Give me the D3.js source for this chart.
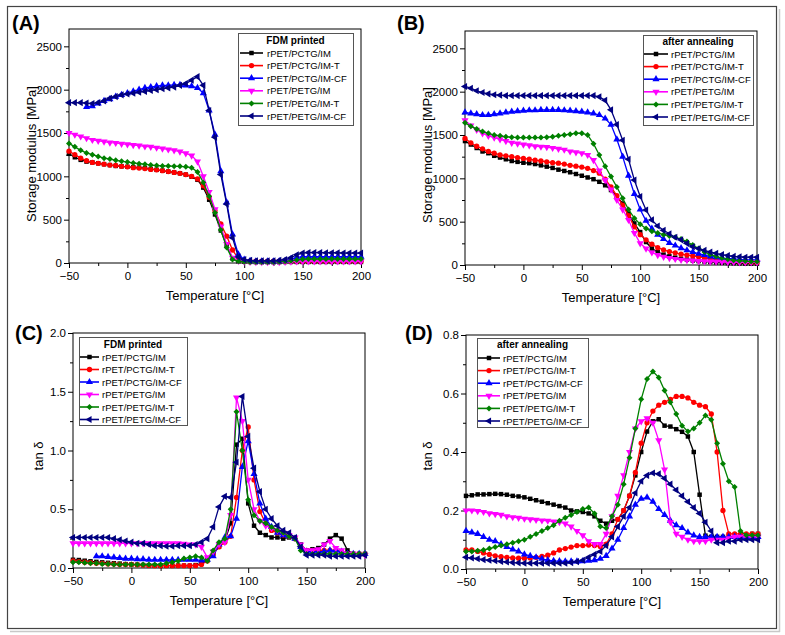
<!DOCTYPE html>
<html>
<head>
<meta charset="utf-8">
<script src="https://cdn.jsdelivr.net/npm/d3@7"></script>
<style>
  body { margin: 0; background: #fff; }
  svg text { font-family: "Liberation Sans", Arial, sans-serif; fill: #000; }
</style>
</head>
<body>
<svg id="fig" width="785" height="635"></svg>
<script>
// temperature grid shared by every curve (degC)
const temps = [
  -50, -45, -40, -35, -30, -25, -20, -15, -10, -5,
  0, 5, 10, 15, 20, 25, 30, 35, 40, 45,
  50, 55, 60, 65, 70, 75, 80, 85, 90, 95,
  100, 105, 110, 115, 120, 125, 130, 135, 140, 145,
  150, 155, 160, 165, 170, 175, 180, 185, 190, 195, 200];

const names = ['rPET/PCTG/IM', 'rPET/PCTG/IM-T', 'rPET/PCTG/IM-CF',
  'rPET/PETG/IM', 'rPET/PETG/IM-T', 'rPET/PETG/IM-CF'];
const colors = ['#000000', '#ff0000', '#0000ff', '#ff00ff', '#008000', '#000080'];

const tempTicks = [-50, 0, 50, 100, 150, 200];
const modulusTicks = [0, 500, 1000, 1500, 2000, 2500];
const tanTicksC = [0, 0.5, 1.0, 1.5, 2.0];
const tanTicksD = [0, 0.2, 0.4, 0.6, 0.8];

// (A) storage modulus, FDM printed
const aPctgIm = [
  1260, 1220, 1190, 1170, 1160, 1150, 1140, 1130, 1120, 1115,
  1110, 1105, 1100, 1095, 1085, 1075, 1065, 1055, 1045, 1035,
  1020, 995, 960, 870, 730, 560, 375, 200, 55, 20,
  15, 12, 10, 10, 10, 10, 10, 12, 12, 12,
  12, 12, 12, 12, 12, 12, 12, 12, 12, 12, 12];
const aPctgImT = [
  1290, 1250, 1210, 1180, 1160, 1150, 1140, 1130, 1125, 1115,
  1110, 1100, 1095, 1090, 1080, 1075, 1065, 1055, 1045, 1035,
  1020, 1000, 970, 890, 760, 600, 450, 310, 150, 50,
  25, 20, 20, 20, 20, 20, 20, 20, 20, 20,
  20, 20, 20, 20, 20, 20, 20, 20, 20, 20, 20];
const aPctgImCF = [
  null, null, null, 1800, 1810, 1840, 1870, 1890, 1920, 1940,
  1960, 1980, 2000, 2020, 2030, 2040, 2050, 2050, 2055, 2055,
  2050, 2040, 2020, 1960, 1760, 1480, 1060, 700, 330, 100,
  40, 25, 20, 20, 20, 20, 22, 25, 45, 65,
  72, 72, 72, 72, 72, 72, 72, 72, 72, 72, 72];
const aPetgIm = [
  1500, 1480, 1460, 1440, 1420, 1410, 1400, 1390, 1385, 1375,
  1370, 1360, 1355, 1345, 1340, 1330, 1320, 1310, 1300, 1285,
  1265, 1240, 1170, 1000, 820, 620, 420, 220, 60, 25,
  15, 12, 10, 10, 10, 10, 10, 12, 15, 18,
  20, 20, 20, 20, 20, 20, 20, 20, 20, 20, 20];
const aPetgImT = [
  1380, 1340, 1300, 1270, 1250, 1230, 1210, 1200, 1185, 1175,
  1165, 1155, 1145, 1140, 1130, 1125, 1120, 1120, 1115, 1115,
  1110, 1100, 1050, 930, 770, 580, 380, 180, 40, 20,
  15, 12, 12, 12, 12, 12, 15, 20, 25, 35,
  42, 45, 45, 45, 45, 45, 45, 45, 45, 45, 45];
const aPetgImCF = [
  1850, 1850, 1850, 1845, 1840, 1850, 1870, 1900, 1920, 1940,
  1950, 1960, 1970, 1980, 1990, 2000, 2010, 2020, 2030, 2050,
  2070, 2110, 2150, 2050, 1760, 1450, 1020, 680, 290, 70,
  40, 30, 25, 25, 25, 25, 30, 40, 60, 95,
  115, 120, 120, 120, 118, 118, 118, 115, 115, 115, 115];

// (B) storage modulus, after annealing
const bPctgIm = [
  1430, 1390, 1350, 1310, 1290, 1260, 1240, 1220, 1200, 1190,
  1180, 1175, 1165, 1150, 1135, 1120, 1100, 1085, 1070, 1050,
  1030, 1010, 990, 960, 920, 865, 790, 710, 590, 480,
  380, 265, 190, 150, 120, 100, 85, 72, 62, 52,
  45, 40, 35, 30, 25, 22, 20, 18, 16, 15, 15];
const bPctgImT = [
  1460, 1410, 1370, 1340, 1310, 1290, 1270, 1260, 1250, 1240,
  1230, 1220, 1210, 1200, 1190, 1180, 1175, 1165, 1150, 1140,
  1130, 1115, 1090, 1060, 990, 900, 800, 690, 570, 440,
  350, 290, 240, 200, 175, 155, 140, 125, 115, 105,
  95, 85, 75, 65, 55, 48, 42, 38, 34, 30, 30];
const bPctgImCF = [
  1760, 1750, 1740, 1730, 1730, 1740, 1750, 1760, 1770, 1775,
  1780, 1785, 1785, 1790, 1790, 1790, 1790, 1785, 1780, 1775,
  1770, 1760, 1750, 1730, 1690, 1620, 1450, 1250, 1030, 820,
  640, 510, 420, 350, 300, 255, 225, 195, 170, 150,
  130, 115, 100, 90, 80, 75, 70, 65, 60, 60, 60];
const bPetgIm = [
  1670, 1610, 1560, 1520, 1490, 1470, 1450, 1430, 1410, 1400,
  1390, 1380, 1370, 1365, 1360, 1350, 1340, 1330, 1310, 1300,
  1290, 1270, 1210, 1090, 980, 870, 750, 640, 520, 370,
  250, 190, 145, 115, 95, 80, 70, 60, 55, 50,
  45, 42, 40, 38, 36, 34, 32, 30, 30, 30, 30];
const bPetgImT = [
  1640, 1600, 1570, 1540, 1520, 1500, 1490, 1480, 1475, 1470,
  1470, 1470, 1470, 1470, 1475, 1480, 1490, 1500, 1510, 1520,
  1520, 1500, 1400, 1270, 1140, 1020, 900, 770, 640, 540,
  470, 420, 390, 370, 350, 335, 320, 300, 270, 230,
  190, 150, 120, 100, 80, 65, 55, 50, 45, 40, 40];
const bPetgImCF = [
  2060, 2040, 2010, 1990, 1975, 1965, 1960, 1955, 1955, 1955,
  1955, 1955, 1955, 1955, 1955, 1955, 1955, 1955, 1955, 1955,
  1955, 1955, 1955, 1940, 1900, 1790, 1620, 1440, 1220, 980,
  790, 635, 520, 450, 400, 360, 320, 290, 250, 210,
  190, 170, 150, 135, 120, 110, 100, 95, 90, 90, 90];

// (C) tan delta, FDM printed
const cPctgIm = [
  .07, .068, .062, .057, .052, .048, .044, .04, .037, .033,
  .03, .027, .025, .022, .02, .02, .02, .02, .02, .02,
  .02, .025, .04, .07, .12, .18, .23, .38, 1.05, 1.1,
  .55, .36, .3, .28, .26, .26, .25, .26, .25, .2,
  .15, .16, .17, .2, .25, .28, .25, .15, .12, .12, .12];
const cPctgImT = [
  .06, .055, .05, .045, .04, .04, .035, .033, .03, .03,
  .03, .028, .025, .022, .02, .02, .02, .02, .02, .02,
  .02, .02, .03, .06, .12, .18, .22, .27, .6, 1.0,
  1.2, .75, .48, .38, .32, .3, .28, .27, .25, .18,
  .15, .15, .15, .15, .15, .15, .14, .12, .12, .12, .12];
const cPctgImCF = [
  null, null, null, null, .1, .1, .095, .09, .085, .08,
  .08, .075, .075, .07, .07, .07, .07, .07, .07, .07,
  .07, .07, .065, .07, .1, .2, .26, .27, .42, .86,
  1.08, .8, .55, .42, .35, .3, .28, .27, .25, .18,
  .14, .14, .14, .14, .15, .15, .14, .12, .12, .12, .12];
const cPetgIm = [
  .21, .21, .21, .21, .21, .21, .21, .21, .21, .21,
  .21, .21, .21, .21, .21, .21, .21, .21, .21, .205,
  .2, .2, .18, .09, .14, .2, .22, .45, 1.45, 1.25,
  .75, .5, .4, .36, .34, .32, .3, .28, .26, .2,
  .15, .15, .16, .2, .23, .17, .15, .12, .12, .11, .11];
const cPetgImT = [
  .05, .05, .045, .04, .04, .035, .035, .03, .03, .03,
  .03, .03, .03, .03, .03, .03, .04, .05, .06, .08,
  .09, .1, .09, .06, .15, .22, .25, .5, 1.33, 1.0,
  .58, .45, .4, .38, .35, .32, .3, .27, .25, .15,
  .12, .12, .12, .12, .12, .12, .12, .12, .12, .12, .12];
const cPetgImCF = [
  .26, .26, .26, .26, .26, .26, .26, .25, .24, .23,
  .22, .21, .21, .2, .19, .19, .185, .185, .19, .19,
  .19, .2, .22, .25, .35, .52, .61, .6, .9, 1.46,
  1.12, .85, .65, .5, .42, .36, .32, .3, .26, .18,
  .11, .11, .11, .11, .1, .1, .1, .1, .1, .1, .11];

// (D) tan delta, after annealing
const dPctgIm = [
  .25, .252, .255, .255, .256, .257, .256, .254, .25, .248,
  .245, .24, .235, .23, .225, .22, .215, .21, .2, .197,
  .195, .19, .18, .165, .155, .165, .17, .2, .25, .32,
  .4, .47, .505, .512, .49, .487, .478, .469, .453, .4,
  .254, .114, .11, .11, .11, .11, .11, .115, .115, .12, .12];
const dPctgImT = [
  .065, .065, .06, .055, .05, .045, .042, .04, .038, .037,
  .037, .038, .04, .043, .047, .055, .065, .07, .075, .08,
  .08, .082, .08, .077, .085, .12, .17, .2, .25, .33,
  .43, .5, .54, .56, .57, .58, .59, .59, .585, .57,
  .56, .555, .53, .4, .2, .12, .12, .12, .12, .12, .12];
const dPctgImCF = [
  .13, .125, .12, .11, .1, .095, .085, .075, .067, .06,
  .05, .045, .04, .035, .03, .028, .027, .026, .026, .026,
  .027, .028, .03, .035, .045, .07, .1, .14, .18, .22,
  .24, .245, .23, .205, .185, .165, .15, .14, .125, .115,
  .11, .11, .11, .11, .11, .11, .11, .11, .11, .11, .11];
const dPetgIm = [
  .2, .2, .198, .195, .19, .188, .185, .18, .177, .175,
  .172, .17, .168, .166, .165, .162, .16, .155, .145, .13,
  .115, .095, .085, .085, .12, .18, .25, .32, .4, .48,
  .505, .515, .5, .44, .34, .16, .12, .11, .1, .095,
  .095, .095, .1, .1, .1, .105, .11, .11, .11, .11, .11];
const dPetgImT = [
  .06, .06, .062, .065, .07, .075, .08, .085, .09, .095,
  .1, .11, .12, .13, .14, .15, .165, .175, .185, .195,
  .205, .21, .19, .145, .14, .18, .22, .29, .38, .48,
  .58, .65, .675, .655, .61, .57, .53, .49, .47, .48,
  .5, .525, .51, .43, .36, .3, .28, .13, .115, .115, .115];
const dPetgImCF = [
  .04, .038, .035, .032, .03, .028, .026, .024, .022, .021,
  .02, .02, .02, .02, .02, .02, .02, .02, .022, .025,
  .03, .04, .05, .06, .08, .11, .145, .18, .21, .26,
  .3, .32, .328, .325, .31, .29, .27, .25, .23, .21,
  .19, .16, .13, .09, .09, .095, .095, .1, .1, .1, .1];

// marker per series: square, circle, up, down, diamond, left
const markers = [
  { type: d3.symbolSquare, size: 20, rot: 0 },
  { type: d3.symbolCircle, size: 22, rot: 0 },
  { type: d3.symbolTriangle, size: 22, rot: 0 },
  { type: d3.symbolTriangle, size: 22, rot: 180 },
  { type: d3.symbolSquare, size: 18, rot: 45 },
  { type: d3.symbolTriangle, size: 22, rot: -90 }
];

const panels = [
  { label: '(A)', lx: 12, ly: 30, left: 69, right: 361, top: 29, bottom: 263,
    ymax: 2700, ticks: modulusTicks, fmt: d3.format('d'),
    ytitle: 'Storage modulus [MPa]', ytitleX: 36, ytitleY: 154,
    series: [aPctgIm, aPctgImT, aPctgImCF, aPetgIm, aPetgImT, aPetgImCF],
    legTitle: 'FDM printed', leg: { x: 238, y: 33, w: 115, h: 92, l0: 240, l1: 263, tx: 267, ty: 44, r0: 53, dr: 12.6 } },
  { label: '(B)', lx: 397, ly: 30, left: 465, right: 757, top: 31, bottom: 265,
    ymax: 2700, ticks: modulusTicks, fmt: d3.format('d'),
    ytitle: 'Storage modulus [MPa]', ytitleX: 432, ytitleY: 155,
    series: [bPctgIm, bPctgImT, bPctgImCF, bPetgIm, bPetgImT, bPetgImCF],
    legTitle: 'after annealing', leg: { x: 643, y: 35, w: 110, h: 90, l0: 644, l1: 668, tx: 671, ty: 45, r0: 54, dr: 12.6 } },
  { label: '(C)', lx: 15, ly: 340, left: 73, right: 365, top: 333, bottom: 568,
    ymax: 2.0, ticks: tanTicksC, fmt: d3.format('.1f'),
    ytitle: 'tan δ', ytitleX: 43, ytitleY: 456,
    series: [cPctgIm, cPctgImT, cPctgImCF, cPetgIm, cPetgImT, cPetgImCF],
    legTitle: 'FDM printed', leg: { x: 79, y: 337, w: 108, h: 88, l0: 80, l1: 99, tx: 102, ty: 348, r0: 357, dr: 12.5 } },
  { label: '(D)', lx: 405, ly: 340, left: 466, right: 758, top: 335, bottom: 569,
    ymax: 0.8, ticks: tanTicksD, fmt: d3.format('.1f'),
    ytitle: 'tan δ', ytitleX: 432, ytitleY: 456,
    series: [dPctgIm, dPctgImT, dPctgImCF, dPetgIm, dPetgImT, dPetgImCF],
    legTitle: 'after annealing', leg: { x: 477, y: 338, w: 111, h: 89, l0: 478, l1: 500, tx: 503, ty: 348, r0: 358, dr: 12.6 } }
];

const svg = d3.select('#fig');

// outer figure frame with soft shadow
svg.append('line').attr('x1', 10).attr('x2', 780).attr('y1', 631.5).attr('y2', 631.5)
  .attr('stroke', '#c8c8c8').attr('stroke-width', 1.5);
svg.append('line').attr('x1', 779.5).attr('x2', 779.5).attr('y1', 9).attr('y2', 632)
  .attr('stroke', '#c8c8c8').attr('stroke-width', 1.5);
svg.append('rect').attr('x', 7.5).attr('y', 6.5).attr('width', 769).attr('height', 622)
  .attr('fill', 'none').attr('stroke', '#444').attr('stroke-width', 1.2);

function symbolPath(m) {
  return d3.symbol().type(m.type).size(m.size)();
}

panels.forEach(p => {
  const g = svg.append('g');
  const x = d3.scaleLinear().domain([-50, 200]).range([p.left, p.right]);
  const y = d3.scaleLinear().domain([0, p.ymax]).range([p.bottom, p.top]);

  const xMinor = [];
  for (let i = 0; i < tempTicks.length - 1; i++) xMinor.push((tempTicks[i] + tempTicks[i + 1]) / 2);
  const yMinor = [];
  for (let i = 0; i < p.ticks.length - 1; i++) yMinor.push((p.ticks[i] + p.ticks[i + 1]) / 2);

  // axes
  g.append('g').attr('transform', 'translate(0,' + p.bottom + ')')
    .call(d3.axisBottom(x).tickValues(tempTicks).tickSize(5).tickSizeOuter(0).tickPadding(4));
  g.append('g').attr('transform', 'translate(0,' + p.bottom + ')')
    .call(d3.axisBottom(x).tickValues(xMinor).tickSize(3).tickSizeOuter(0).tickFormat(''));
  g.append('g').attr('transform', 'translate(' + p.left + ',0)')
    .call(d3.axisLeft(y).tickValues(p.ticks).tickFormat(p.fmt).tickSize(5).tickSizeOuter(0).tickPadding(2));
  g.append('g').attr('transform', 'translate(' + p.left + ',0)')
    .call(d3.axisLeft(y).tickValues(yMinor).tickSize(3).tickSizeOuter(0).tickFormat(''));
  g.selectAll('.domain').remove();
  g.selectAll('.tick line').attr('stroke', '#000');
  g.selectAll('.tick text').attr('font-size', '11.5px').attr('fill', '#111');

  g.append('rect').attr('x', p.left).attr('y', p.top)
    .attr('width', p.right - p.left).attr('height', p.bottom - p.top)
    .attr('fill', 'none').attr('stroke', '#000').attr('stroke-width', 1);

  // titles
  g.append('text').attr('x', (p.left + p.right) / 2).attr('y', p.bottom + 37)
    .attr('text-anchor', 'middle').attr('font-size', '13px').text('Temperature [°C]');
  g.append('text').attr('transform', 'translate(' + p.ytitleX + ',' + p.ytitleY + ') rotate(-90)')
    .attr('text-anchor', 'middle').attr('font-size', '13px').text(p.ytitle);
  g.append('text').attr('x', p.lx).attr('y', p.ly).attr('font-size', '20px')
    .attr('font-weight', 'bold').text(p.label);

  // curves
  const line = d3.line()
    .defined(d => d[1] != null)
    .x(d => x(d[0])).y(d => y(d[1]));
  p.series.forEach((vals, i) => {
    const pts = temps.map((t, k) => [t, vals[k]]);
    g.append('path').datum(pts).attr('d', line)
      .attr('fill', 'none').attr('stroke', colors[i]).attr('stroke-width', 1.3);
    g.append('g').selectAll('path').data(pts.filter(d => d[1] != null)).join('path')
      .attr('d', symbolPath(markers[i]))
      .attr('transform', d => 'translate(' + x(d[0]) + ',' + y(d[1]) + ') rotate(' + markers[i].rot + ')')
      .attr('fill', colors[i]);
  });

  // legend
  const L = p.leg;
  const lg = g.append('g');
  lg.append('rect').attr('x', L.x + 0.5).attr('y', L.y + 0.5).attr('width', L.w).attr('height', L.h)
    .attr('fill', '#fff').attr('stroke', '#555').attr('stroke-width', 1);
  lg.append('text').attr('x', L.x + L.w / 2).attr('y', L.ty).attr('text-anchor', 'middle')
    .attr('font-size', '10px').attr('font-weight', 'bold').text(p.legTitle);
  names.forEach((n, i) => {
    const cy = L.r0 + i * L.dr;
    lg.append('line').attr('x1', L.l0).attr('x2', L.l1).attr('y1', cy).attr('y2', cy)
      .attr('stroke', colors[i]).attr('stroke-width', 1.6);
    lg.append('path').attr('d', symbolPath(markers[i]))
      .attr('transform', 'translate(' + (L.l0 + L.l1) / 2 + ',' + cy + ') rotate(' + markers[i].rot + ')')
      .attr('fill', colors[i]);
    lg.append('text').attr('x', L.tx).attr('y', cy + 3.5).attr('font-size', '9.5px').text(n);
  });
});
</script>
</body>
</html>
